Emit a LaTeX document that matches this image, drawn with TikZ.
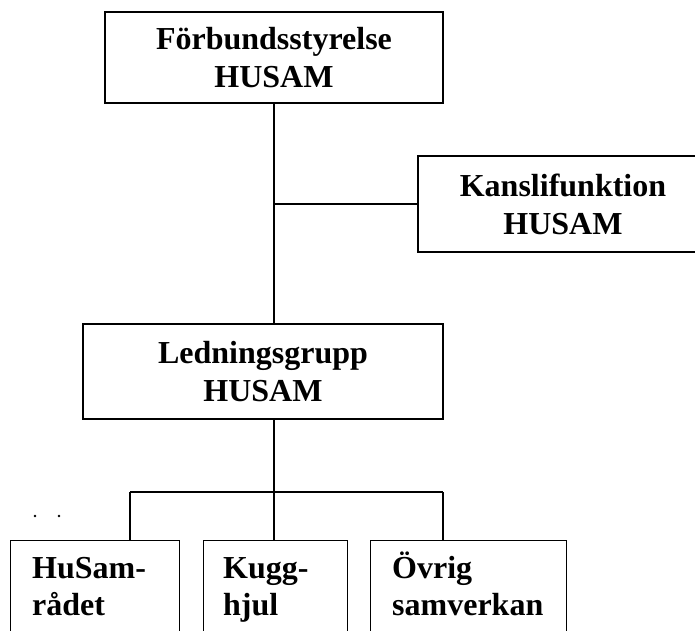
\documentclass[tikz,border=0pt]{standalone}
\usepackage{fontspec}
\setmainfont{Liberation Serif}
\usepackage{tikz}
\usetikzlibrary{calc}
\tikzset{
  box/.style={draw=black, line width=1.3pt, inner sep=0pt, align=center, font=\bfseries\fontsize{32}{38}\selectfont},
  lowbox/.style={draw=black, line width=1.4pt, inner sep=0pt, anchor=north west, minimum height=120pt},
  lowtxt/.style={inner sep=0pt, align=left, anchor=base west, font=\bfseries\fontsize{32}{37}\selectfont},
  link/.style={draw=black, line width=1.3pt},
  dot/.style={circle, fill=black, inner sep=0.9pt},
}

\begin{document}
\begin{tikzpicture}[x=1pt,y=-1pt]
  \clip (0,0) rectangle (695,630);
  % upper part
  \node[box, minimum width=338pt, minimum height=91pt] (forb) at (274,57.5) {Förbundsstyrelse\\HUSAM};
  \node[box, minimum width=290pt, minimum height=96pt] (kansli) at (563,204) {Kanslifunktion\\HUSAM};
  \node[box, minimum width=360pt, minimum height=95pt] (ledn) at (263,371.5) {Ledningsgrupp\\HUSAM};
  \draw[link] (forb.south) -- (forb.south |- ledn.north);
  \draw[link] (forb.south |- kansli.west) -- (kansli.west);
  % lower part
  \node[lowbox, minimum width=169pt] (husam) at (10,540) {};
  \node[lowbox, minimum width=144pt] (kugg) at (203,540) {};
  \node[lowbox, minimum width=196pt] (ovrig) at (370,540) {};
  \node[lowtxt] (husamtxt) at (32,615) {HuSam-\\rådet};
  \node[lowtxt] (kuggtxt) at (223,615) {Kugg-\\hjul};
  \node[lowtxt] (ovrigtxt) at (392,615) {Övrig\\samverkan};
  \coordinate (bar) at (274,492);
  \coordinate (dropA) at (130,492);
  \coordinate (dropC) at (443,492);
  \draw[link] (forb.south |- ledn.south) -- (bar);
  \draw[link] (dropA) -- (dropC);
  \draw[link] (dropA) -- (dropA |- husam.north);
  \draw[link] (bar) -- (bar |- kugg.north);
  \draw[link] (dropC) -- (dropC |- ovrig.north);
  \foreach \X/\Y in {35/516,59/516}
    \node[dot] at (\X,\Y) {};
\end{tikzpicture}
\end{document}
